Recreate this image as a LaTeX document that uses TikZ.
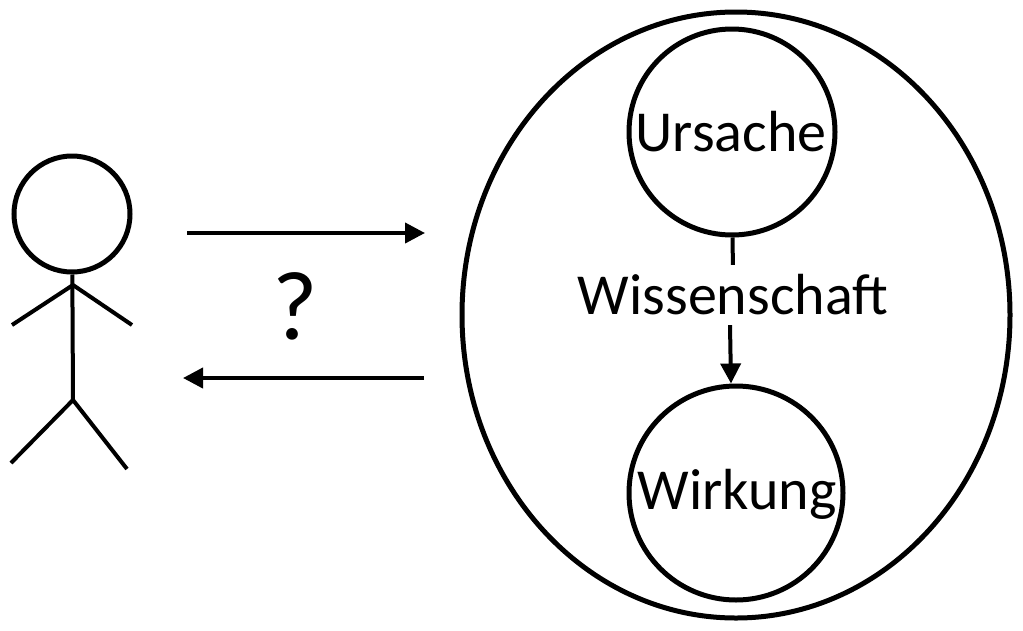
\documentclass[tikz,border=0pt]{standalone}
\usepackage{fontspec}
\setmainfont{Carlito}
\usetikzlibrary{arrows.meta,shapes.geometric}
\tikzset{
  line/.style={line width=4pt,black},
  ring/.style={circle,draw,line width=5pt,inner sep=0pt},
  word/.style={font=\fontsize{58}{58}\selectfont,inner sep=0pt},
  flow/.style={line width=4pt,-{Stealth[length=20pt,width=20pt,inset=0pt]}}
}
\begin{document}
\begin{tikzpicture}[x=1pt,y=-1pt]
      \useasboundingbox (0,0) rectangle (1023,630);

      % Outer ellipse with the two circles
      \node[ellipse,draw,line width=5pt,inner sep=0pt,minimum width=548pt,minimum height=606pt] (world) at (736,315) {};
      \node[ring,minimum size=206pt] (ursache) at (732,132) {};
      \node[ring,minimum size=214pt] (wirkung) at (736,493) {};
      \node[word] at (731,132) {Ursache};
      \node[word] at (737,494) {Wirkung};
      \node[word,minimum height=60pt,minimum width=310pt] (wissen) at (733,295) {Wissenschaft};
      \draw[line] (ursache) -- (wissen);
      \draw[flow] ([xshift=-3pt]wissen.south) -- ([xshift=-5pt]wirkung.north);

      % Stick figure
      \node[ring,minimum size=116pt] (head) at (72,214) {};
      \coordinate (hip) at (73,400);
      \coordinate (neck) at (73,285);
      \draw[line] (head) -- (hip);
      \coordinate (handl) at (12,325);
      \coordinate (handr) at (132,325);
      \coordinate (footl) at (11,463);
      \coordinate (footr) at (127,469);
      \draw[line] (handl) -- (neck) -- (handr);
      \draw[line] (footl) -- (hip) -- (footr);

      % Arrows between figure and ellipse
      \coordinate (ato) at (425,233);
      \coordinate (afrom) at (187,233);
      \coordinate (bfrom) at (424,378);
      \coordinate (bto) at (183,378);
      \draw[flow] (afrom) -- (ato);
      \draw[flow] (bfrom) -- (bto);
      \node[font=\fontsize{98}{98}\selectfont,inner sep=0pt] (ask) at (295,306) {?};
    \end{tikzpicture}
\end{document}
